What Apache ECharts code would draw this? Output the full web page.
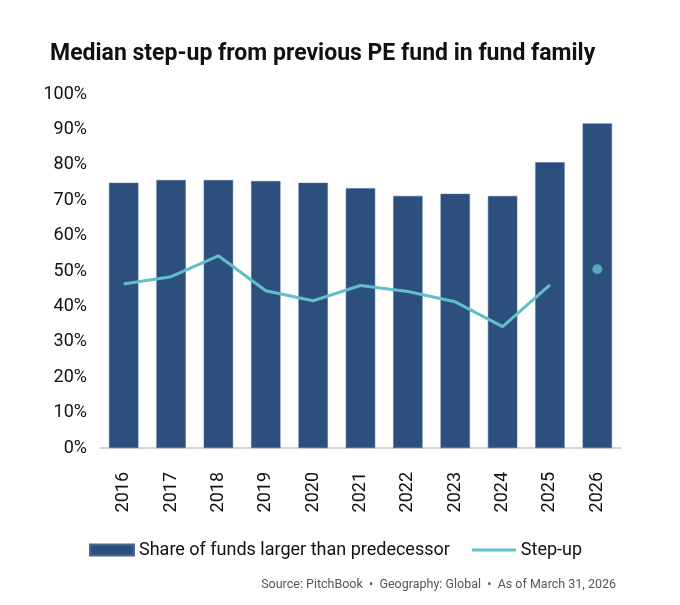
<!DOCTYPE html>
<html>
<head>
<meta charset="utf-8">
<title>Median step-up from previous PE fund in fund family</title>
<script src="https://cdn.jsdelivr.net/npm/echarts@6/dist/echarts.min.js"></script>
<style>
  html, body { margin: 0; padding: 0; background: #fff; }
  #chart { width: 680px; height: 605px; }
</style>
</head>
<body>
<div id="chart"></div>
<script>
// vintage years on the x axis
const years = ['2016', '2017', '2018', '2019', '2020', '2021', '2022', '2023', '2024', '2025', '2026'];
// share of funds larger than predecessor, %
const shareLarger = [74.9, 75.7, 75.7, 75.4, 74.9, 73.4, 71.2, 71.8, 71.2, 80.7, 91.7];
// median step-up, % (last year drawn as a lone dot)
const stepUp = [46.3, 48.4, 54.3, 44.4, 41.6, 45.9, 44.2, 41.3, 34.3, 46.1, 50.5];
// y axis ticks
const yTicks = [0, 10, 20, 30, 40, 50, 60, 70, 80, 90, 100];

const barColor = '#2c4f7e';
const lineColor = '#62bec8';
const font = 'Roboto, "Noto Sans", sans-serif';

const last = stepUp.length - 1;
const lineData = stepUp.map((v, i) => (i < last ? v : null));
const dotData = stepUp.map((v, i) => (i === last ? v : null));

const myChart = echarts.init(document.getElementById('chart'));
myChart.setOption({
    animation: false,
    textStyle: { fontFamily: font },
    title: {
        text: 'Median step-up from previous PE fund in fund family',
        left: 45,
        top: 38,
        textStyle: { fontSize: 23, fontWeight: 'bold', color: '#111', fontFamily: font }
    },
    graphic: [{
        type: 'text',
        right: 64,
        top: 578,
        style: {
            text: 'Source: PitchBook  \u2022  Geography: Global  \u2022  As of March 31, 2026',
            fontSize: 12.5,
            fill: '#555',
            fontFamily: font
        }
    }],
    legend: {
        data: [
            { name: 'Share of funds larger than predecessor', icon: 'rect' },
            { name: 'Step-up', icon: 'path://M0,0 L44,0 L44,3 L0,3 Z' }
        ],
        left: 84,
        top: 536,
        itemWidth: 44,
        itemHeight: 11,
        itemGap: 22,
        textStyle: { fontSize: 18, color: '#111', fontFamily: font }
    },
    grid: { left: 100, right: 59, top: 94, bottom: 157, containLabel: false },
    xAxis: {
        type: 'category',
        data: years,
        axisLine: { lineStyle: { color: '#c8c8c8', width: 1.5 } },
        axisTick: { show: false },
        axisLabel: { rotate: 90, fontSize: 18, color: '#111', margin: 24 }
    },
    yAxis: {
        type: 'value',
        min: yTicks[0],
        max: yTicks[yTicks.length - 1],
        interval: yTicks[1] - yTicks[0],
        axisLine: { show: false },
        axisTick: { show: false },
        splitLine: { show: false },
        axisLabel: { formatter: '{value}%', fontSize: 18, color: '#111', margin: 13 }
    },
    series: [
        {
            name: 'Share of funds larger than predecessor',
            type: 'bar',
            data: shareLarger,
            barWidth: '62%',
            itemStyle: { color: barColor, borderColor: '#4a6a96', borderWidth: 0.5 }
        },
        {
            name: 'Step-up',
            type: 'line',
            data: lineData,
            symbol: 'none',
            lineStyle: { color: lineColor, width: 3 },
            itemStyle: { color: lineColor }
        },
        {
            name: 'Step-up estimate',
            type: 'scatter',
            data: dotData,
            symbolSize: 10,
            itemStyle: { color: lineColor }
        }
    ]
});
window.addEventListener('resize', myChart.resize);
</script>
</body>
</html>
